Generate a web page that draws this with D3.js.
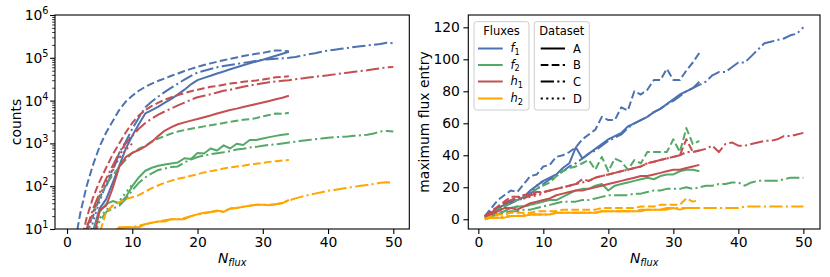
<!DOCTYPE html>
<html><head><meta charset="utf-8">
<style>
    body { margin: 0; background: #ffffff; }
    svg text { font-family: "DejaVu Sans", sans-serif; fill: #000; }
</style>
</head>
<body>
<svg id="fig" width="830" height="277"></svg>
<script src="https://d3js.org/d3.v7.min.js"></script>
<script>
// ---- data: counts per N_flux (left panel) ----
// each array starts at the N given in cntStart (rows: f1, f2, h1, h2; cols: A, B, C, D)
const cnt_f1_A = [2, 9, 30, 50, 120, 300, 750, 1500, 2800, 5000, 6000, 7200, 9000, 11000, 14000, 18000, 24000, 30000, 34000, 38000, 43000, 48000, 54000, 60000, 67000, 74000, 82000, 90000, 100000, 112000, 124000, 138000];
const cnt_f1_B = [3, 22, 100, 320, 850, 1800, 3300, 6000, 9500, 13000, 17000, 21000, 25000, 29000, 33000, 38000, 43000, 49000, 55000, 62000, 68000, 74000, 81000, 88000, 95000, 102000, 110000, 117000, 124000, 130000, 140000, 148000, 147000, 142000];
const cnt_f1_C = [4, 12, 20, 55, 100, 220, 600, 1100, 2200, 4000, 7000, 9500, 12500, 16000, 20000, 25000, 31000, 38000, 45000, 50000, 55000, 60000, 64000, 68000, 72000, 76000, 80000, 85000, 90000, 93000, 95000, 97000, 100000, 105000, 112000, 120000, 128000, 138000, 148000, 155000, 162000, 170000, 178000, 186000, 194000, 202000, 210000, 225000, 218000];
const cnt_f1_D = [3, 15, 45, 110, 250, 500, 1000, 1600];

const cnt_f2_A = [8, 25, 38, 45, 40, 55, 100, 160, 230, 270, 300, 320, 340, 360, 450, 430, 600, 580, 760, 680, 900, 760, 980, 920, 1200, 1200, 1300, 1400, 1500, 1600, 1650];
const cnt_f2_B = [8, 25, 55, 110, 180, 280, 420, 600, 750, 880, 1100, 1300, 1500, 1700, 1900, 2050, 2200, 2350, 2500, 2650, 2800, 3000, 3200, 3400, 3550, 3700, 3900, 4300, 4600, 5000, 4900, 5200];
const cnt_f2_C = [6, 15, 25, 30, 35, 50, 80, 120, 160, 200, 240, 260, 280, 290, 360, 420, 480, 520, 560, 590, 620, 660, 720, 750, 800, 830, 880, 920, 950, 1000, 1050, 1100, 1150, 1200, 1250, 1300, 1350, 1400, 1420, 1450, 1500, 1550, 1600, 1700, 1900, 1950, 1900];
const cnt_f2_D = [8, 18, 28, 35, 45, 70, 110];

const cnt_h1_A = [5, 28, 35, 90, 280, 480, 600, 700, 850, 1100, 1500, 2000, 2400, 2800, 3100, 3400, 3700, 4100, 4500, 5000, 5500, 6000, 6500, 7100, 7700, 8300, 9000, 9800, 10700, 11700, 13000];
const cnt_h1_B = [4, 18, 55, 130, 270, 550, 1000, 1800, 3000, 4500, 6000, 7500, 9000, 10500, 12000, 13500, 15000, 16500, 18000, 19500, 21000, 22000, 23500, 25000, 26000, 27500, 28500, 29500, 31000, 33000, 35000, 36000, 37000];
const cnt_h1_C = [10, 30, 70, 150, 300, 600, 1000, 1500, 2200, 3000, 3800, 4700, 5600, 6600, 7700, 9000, 10500, 12000, 13000, 14000, 15500, 17000, 18000, 19500, 21000, 22500, 24000, 25500, 27000, 28000, 29000, 30000, 31500, 33000, 34500, 36000, 37500, 39000, 41000, 43000, 45000, 47000, 49000, 51000, 54000, 57000, 60000, 61000];
const cnt_h1_D = [6, 25, 60, 130, 250, 450, 700, 1000];

const cnt_h2_A = [5, 8, 11, 11, 11, 11, 13, 14, 15, 15, 17, 17, 17, 20, 22, 24, 25, 27, 25, 30, 31, 33, 35, 37, 37, 36, 38, 40, 48];
const cnt_h2_B = [3, 8, 25, 35, 42, 50, 55, 62, 75, 90, 105, 120, 135, 150, 160, 175, 190, 210, 225, 240, 260, 275, 290, 300, 320, 335, 350, 370, 385, 400, 410];
const cnt_h2_C = [4, 9, 10, 11, 11, 12, 13, 14, 15, 16, 17, 17, 18, 20, 22, 23, 25, 26, 26, 30, 31, 33, 35, 37, 37, 37, 38, 41, 46, 52, 57, 62, 67, 72, 78, 82, 87, 92, 97, 102, 107, 113, 120, 123, 122];
const cnt_h2_D = [2, 3, 4, 5, 6, 7];

const cntStart = [[3, 1, 2, 3], [4, 3, 4, 4], [4, 2, 3, 3], [6, 4, 6, 5]];

// ---- data: maximum flux entry per N_flux (right panel), all start at N = 1 ----
const mx_f1_A = [1, 4, 7, 9, 11, 12, 14, 18, 21, 24, 26, 28, 32, 35, 45, 38, 41, 44, 47, 50, 52, 54, 58, 60, 62, 64, 67, 69, 72, 75, 78, 80, 82, 86];
const mx_f1_B = [2, 7, 12, 15, 18, 17, 22, 27, 28, 33, 34, 39, 40, 42, 45, 50, 53, 56, 64, 62, 62, 70, 68, 80, 78, 81, 87, 87, 94, 87, 87, 93, 98, 104];
const mx_f1_C = [2, 4, 6, 8, 10, 12, 13, 16, 19, 22, 25, 27, 30, 33, 35, 38, 41, 43, 46, 49, 51, 53, 57, 60, 62, 64, 67, 69, 72, 74, 77, 80, 82, 84, 86, 90, 92, 92, 95, 98, 98, 102, 106, 110, 111, 112, 113, 115, 116, 120];
const mx_f1_D = [2, 5, 8, 9, 11, 13, 15, 17, 21, 24];

const mx_f2_A = [1, 2, 3, 5, 7, 8, 8, 9, 10, 11, 12, 12, 14, 16, 18, 19, 19, 21, 22, 18, 21, 22, 23, 24, 25, 26, 25, 27, 28, 28, 30, 31, 31, 30];
const mx_f2_B = [1, 3, 6, 8, 10, 12, 14, 16, 19, 21, 23, 27, 30, 32, 33, 35, 37, 31, 39, 30, 38, 36, 31, 37, 35, 42, 42, 42, 42, 50, 42, 57, 47, 49];
const mx_f2_C = [1, 2, 3, 4, 5, 5, 6, 6, 7, 8, 9, 10, 11, 11, 11, 12, 12, 13, 14, 15, 15, 15, 15, 16, 16, 17, 18, 18, 19, 19, 19, 20, 19, 20, 21, 21, 22, 22, 23, 23, 21, 23, 24, 24, 24, 24, 25, 26, 26, 26];
const mx_f2_D = [1, 2, 4, 5, 7, 8, 8, 9, 10, 11];

const mx_h1_A = [2, 3, 5, 7, 7, 6, 8, 10, 11, 12, 13, 15, 16, 17, 18, 18, 19, 20, 21, 22, 23, 24, 25, 26, 27, 27, 28, 29, 30, 31, 31, 32, 33, 34];
const mx_h1_B = [2, 5, 8, 11, 14, 14, 15, 16, 17, 17, 18, 19, 20, 21, 22, 25, 24, 26, 27, 28, 29, 30, 31, 32, 33, 35, 36, 37, 38, 39, 40, 50, 42, 43];
const mx_h1_C = [2, 4, 7, 10, 12, 13, 13, 15, 16, 17, 18, 19, 20, 21, 22, 23, 24, 26, 27, 28, 29, 30, 31, 32, 33, 35, 36, 37, 38, 39, 40, 42, 42, 43, 44, 46, 42, 47, 48, 46, 46, 47, 48, 49, 49, 50, 52, 52, 53, 54];
const mx_h1_D = [2, 4, 8, 10, 12, 14, 13, 14, 15, 16];

const mx_h2_A = [0, 1, 1, 1, 2, 2, 2, 3, 3, 3, 3, 4, 4, 4, 4, 4, 4, 4, 5, 5, 5, 5, 5, 5, 5, 6, 6, 6, 6, 7, 6, 7, 7, 7];
const mx_h2_B = [0, 2, 3, 3, 4, 4, 4, 4, 5, 5, 5, 5, 6, 6, 6, 6, 6, 6, 7, 7, 7, 7, 7, 7, 8, 8, 8, 9, 9, 9, 9, 13, 11, 12];
const mx_h2_C = [0, 1, 1, 1, 2, 2, 2, 3, 3, 3, 3, 4, 4, 4, 4, 4, 4, 4, 5, 5, 5, 5, 5, 5, 6, 6, 6, 6, 7, 7, 7, 7, 7, 7, 7, 7, 7, 7, 7, 7, 8, 8, 8, 8, 8, 8, 8, 8, 8, 8];
const mx_h2_D = [0, 1, 1, 2, 2, 2, 3, 3, 3, 3];

const fluxNames = [["f", "1"], ["f", "2"], ["h", "1"], ["h", "2"]];
const fluxColors = ["#4C72B0", "#55A868", "#C44E52", "#FFA500"];
const datasetNames = ["A", "B", "C", "D"];
const xTicks = [0, 10, 20, 30, 40, 50];
const yTicksMax = [0, 20, 40, 60, 80, 100, 120];
const yTicksLog = [1e1, 1e2, 1e3, 1e4, 1e5, 1e6];

const cntValues = [
    [cnt_f1_A, cnt_f1_B, cnt_f1_C, cnt_f1_D],
    [cnt_f2_A, cnt_f2_B, cnt_f2_C, cnt_f2_D],
    [cnt_h1_A, cnt_h1_B, cnt_h1_C, cnt_h1_D],
    [cnt_h2_A, cnt_h2_B, cnt_h2_C, cnt_h2_D]
];
const mxValues = [
    [mx_f1_A, mx_f1_B, mx_f1_C, mx_f1_D],
    [mx_f2_A, mx_f2_B, mx_f2_C, mx_f2_D],
    [mx_h1_A, mx_h1_B, mx_h1_C, mx_h1_D],
    [mx_h2_A, mx_h2_B, mx_h2_C, mx_h2_D]
];

// matplotlib-ish dash patterns for lw 1.5 at 100 dpi
const dashArr = [null, "7.7,3.3", "13.3,3.3,2.1,3.3", "2.1,3.4"];
const LW = 2.0;
const FS = 13.9;

const svg = d3.select("#fig");

function buildSeries(values, starts) {
    let out = [];
    values.forEach((row, i) => {
        row.forEach((vals, j) => {
            let s = starts ? starts[i][j] : 1;
            out.push({ flux: i, ds: j, pts: vals.map((v, k) => [s + k, v]) });
        });
    });
    return out;
}

function drawPanel(cfg) {
    let { x0, x1, y0, y1, xScale, yScale, series, id } = cfg;
    let g = svg.append("g");

    g.append("clipPath").attr("id", id)
        .append("rect").attr("x", x0).attr("y", y0).attr("width", x1 - x0).attr("height", y1 - y0);

    let line = d3.line().x(d => xScale(d[0])).y(d => yScale(d[1]));

    g.append("g").attr("clip-path", `url(#${id})`)
        .selectAll("path").data(series).enter().append("path")
        .attr("d", d => line(d.pts))
        .attr("fill", "none")
        .attr("stroke", d => fluxColors[d.flux])
        .attr("stroke-width", LW)
        .attr("stroke-linejoin", "round")
        .attr("stroke-dasharray", d => dashArr[d.ds]);

    // x axis
    let xa = g.append("g").attr("transform", `translate(0,${y1})`)
        .call(d3.axisBottom(xScale).tickValues(xTicks).tickSize(4.9).tickPadding(3.5));
    xa.select(".domain").remove();
    xa.selectAll("line").attr("stroke-width", 1.1);
    xa.selectAll("text").attr("font-size", FS).attr("font-family", "DejaVu Sans");

    // frame
    g.append("rect").attr("x", x0).attr("y", y0).attr("width", x1 - x0).attr("height", y1 - y0)
        .attr("fill", "none").attr("stroke", "#000").attr("stroke-width", 1.1);

    // x label N_flux
    let xl = g.append("text").attr("x", (x0 + x1) / 2).attr("y", 263).attr("text-anchor", "middle")
        .attr("font-size", FS);
    xl.append("tspan").attr("font-style", "italic").text("N");
    xl.append("tspan").attr("font-style", "italic").attr("font-size", 9.7).attr("dy", 2.8).text("flux");
    return g;
}

// ---- left panel: counts (log) ----
const xL = d3.scaleLinear().domain([-1.84, 52.45]).range([55, 409.3]);
const yL = d3.scaleLog().domain([10, 1e6]).range([229, 15]);
const gL = drawPanel({ x0: 55, x1: 409.3, y0: 15, y1: 229, xScale: xL, yScale: yL,
    series: buildSeries(cntValues, cntStart), id: "clipL" });

let minorTicks = [];
for (let e = 1; e < 6; e++) for (let m = 2; m < 10; m++) minorTicks.push(m * Math.pow(10, e));
let ymin = gL.append("g").attr("transform", "translate(55,0)")
    .call(d3.axisLeft(yL).tickValues(minorTicks).tickSize(2.8).tickFormat(""));
ymin.select(".domain").remove();
ymin.selectAll("line").attr("stroke-width", 0.8);
let ymaj = gL.append("g").attr("transform", "translate(55,0)")
    .call(d3.axisLeft(yL).tickValues(yTicksLog).tickSize(4.9).tickFormat(""));
ymaj.select(".domain").remove();
ymaj.selectAll("line").attr("stroke-width", 1.1);
yTicksLog.forEach(v => {
    let t = gL.append("text").attr("x", 48.5).attr("y", yL(v) + 5).attr("text-anchor", "end").attr("font-size", FS);
    t.append("tspan").text("10");
    t.append("tspan").attr("font-size", 9.7).attr("dy", -6).text(Math.round(Math.log10(v)));
});
gL.append("text").attr("transform", "translate(21,122) rotate(-90)").attr("text-anchor", "middle")
    .attr("font-size", FS).text("counts");

// ---- right panel: maximum flux entry ----
const xR = d3.scaleLinear().domain([-1.54, 52.56]).range([468.3, 820]);
const yR = d3.scaleLinear().domain([-6.1, 127.7]).range([229, 15]);
const gR = drawPanel({ x0: 468.3, x1: 820, y0: 15, y1: 229, xScale: xR, yScale: yR,
    series: buildSeries(mxValues, null), id: "clipR" });
let yra = gR.append("g").attr("transform", "translate(468.3,0)")
    .call(d3.axisLeft(yR).tickValues(yTicksMax).tickSize(4.9).tickPadding(3.5));
yra.select(".domain").remove();
yra.selectAll("line").attr("stroke-width", 1.1);
yra.selectAll("text").attr("font-size", FS).attr("font-family", "DejaVu Sans");
gR.append("text").attr("transform", "translate(428.5,122) rotate(-90)").attr("text-anchor", "middle")
    .attr("font-size", FS).text("maximum flux entry");

// ---- legends ----
const LFS = 11.5;
function legendBox(x, y, w, h, title) {
    let g = svg.append("g");
    g.append("rect").attr("x", x).attr("y", y).attr("width", w).attr("height", h).attr("rx", 2.5)
        .attr("fill", "#fff").attr("fill-opacity", 0.8).attr("stroke", "#cccccc").attr("stroke-width", 1);
    g.append("text").attr("x", x + w / 2).attr("y", y + 13.5).attr("text-anchor", "middle")
        .attr("font-size", LFS).text(title);
    return g;
}
const rowsY = [48.5, 65, 81.5, 98.5];

let lf = legendBox(474, 21.7, 55, 88.3, "Fluxes");
fluxNames.forEach((nm, i) => {
    lf.append("line").attr("x1", 478).attr("x2", 502.7).attr("y1", rowsY[i]).attr("y2", rowsY[i])
        .attr("stroke", fluxColors[i]).attr("stroke-width", LW);
    let t = lf.append("text").attr("x", 510.5).attr("y", rowsY[i] + 3.5).attr("font-size", LFS);
    t.append("tspan").attr("font-style", "italic").text(nm[0]);
    t.append("tspan").attr("font-size", 8.2).attr("dy", 2.5).text(nm[1]);
});

let ld = legendBox(534.3, 21.7, 55, 88.3, "Dataset");
datasetNames.forEach((nm, j) => {
    ld.append("line").attr("x1", 540.7).attr("x2", 565).attr("y1", rowsY[j]).attr("y2", rowsY[j])
        .attr("stroke", "#000").attr("stroke-width", LW).attr("stroke-dasharray", dashArr[j]);
    ld.append("text").attr("x", 573).attr("y", rowsY[j] + 4).attr("font-size", LFS).text(nm);
});
</script>
</body>
</html>
